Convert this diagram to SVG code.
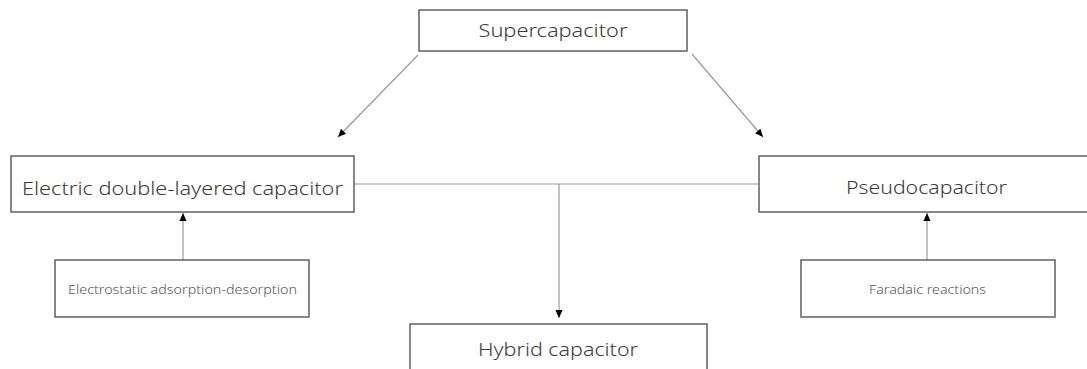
<svg xmlns="http://www.w3.org/2000/svg" width="1087" height="369" viewBox="0 0 1087 369">
  <defs>
    <marker id="arrow" viewBox="0 0 10 10" refX="10" refY="5" markerWidth="8" markerHeight="8" markerUnits="userSpaceOnUse" orient="auto">
      <path d="M0,0.5 L10,5 L0,9.5 z" fill="#000"/>
    </marker>
    <style>
      .box { fill: #fff; stroke: #555; stroke-width: 1.4; }
      .lbl { font-family: "Noto Sans", "Liberation Sans", sans-serif; font-weight: 300; fill: #3a3a3a; text-anchor: middle; }
      .big { font-size: 19px; }
      .small { font-size: 13px; fill: #555; }
      .link { fill: none; stroke: #999; stroke-width: 1.2; }
    </style>
  </defs>
  <rect width="1087" height="369" fill="#fff"/>

  <!-- connectors -->
  <g id="connectors">
    <line class="link" x1="418" y1="55" x2="338" y2="137" marker-end="url(#arrow)"/>
    <line class="link" x1="692" y1="54" x2="763" y2="137" marker-end="url(#arrow)"/>
    <line class="link" x1="354" y1="184" x2="759" y2="184"/>
    <line class="link" x1="559" y1="184" x2="559" y2="318" marker-end="url(#arrow)"/>
    <line class="link" x1="183" y1="260" x2="183" y2="213" marker-end="url(#arrow)"/>
    <line class="link" x1="927" y1="260" x2="927" y2="213" marker-end="url(#arrow)"/>
  </g>

  <g id="supercapacitor">
    <rect class="box" x="419" y="10" width="268" height="41"/>
    <text class="lbl big" x="553" y="37" textLength="149" lengthAdjust="spacingAndGlyphs">Supercapacitor</text>
  </g>

  <g id="edlc">
    <rect class="box" x="11" y="156" width="343" height="56"/>
    <text class="lbl big" x="182.5" y="195" textLength="321" lengthAdjust="spacingAndGlyphs">Electric double-layered capacitor</text>
  </g>

  <g id="pseudocapacitor">
    <rect class="box" x="759" y="156" width="334" height="56"/>
    <text class="lbl big" x="926.5" y="194" textLength="161" lengthAdjust="spacingAndGlyphs">Pseudocapacitor</text>
  </g>

  <g id="electrostatic">
    <rect class="box" x="55" y="260" width="254" height="57"/>
    <text class="lbl small" x="182.5" y="294" textLength="229" lengthAdjust="spacingAndGlyphs">Electrostatic adsorption-desorption</text>
  </g>

  <g id="faradaic">
    <rect class="box" x="801" y="260" width="254" height="57"/>
    <text class="lbl small" x="927.5" y="294" textLength="117" lengthAdjust="spacingAndGlyphs">Faradaic reactions</text>
  </g>

  <g id="hybrid">
    <rect class="box" x="410" y="324" width="297" height="60"/>
    <text class="lbl big" x="558" y="356" textLength="160" lengthAdjust="spacingAndGlyphs">Hybrid capacitor</text>
  </g>
</svg>
